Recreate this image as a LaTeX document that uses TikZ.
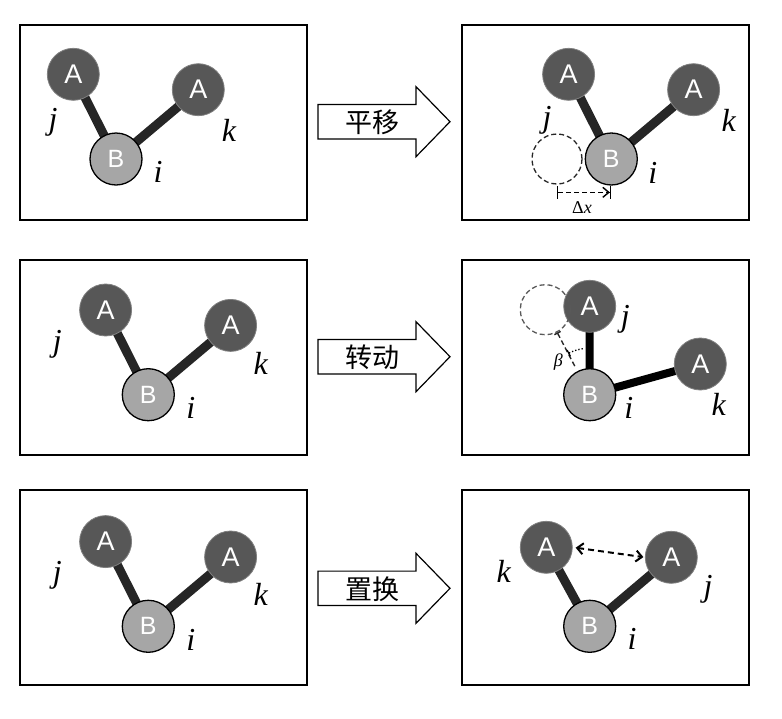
\documentclass[tikz,border=0pt]{standalone}
\usepackage{fontspec}
\setmainfont{Liberation Serif}
\newfontfamily\atomfont{Liberation Sans}
\newfontfamily\cjk{Noto Sans CJK SC}
\usetikzlibrary{arrows.meta,backgrounds}

\definecolor{atomdark}{HTML}{575757}
\definecolor{atomlight}{HTML}{A6A6A6}
\definecolor{bondgray}{HTML}{262626}

\tikzset{
	panel/.style={draw=black, line width=2pt},
	atomA/.style={circle, fill=atomdark, draw=black!50, line width=0.8pt, minimum size=52pt, inner sep=0pt, text=white, font=\atomfont\fontsize{27}{27}\selectfont},
	atomB/.style={circle, fill=atomlight, draw=black, line width=1.3pt, minimum size=52pt, inner sep=0pt, text=white, font=\atomfont\fontsize{25}{25}\selectfont},
	bond/.style={line width=9pt, draw=bondgray},
	lbl/.style={font=\fontsize{32}{32}\selectfont\itshape, inner sep=0pt},
	ghost/.style={circle, draw, dash pattern=on 5pt off 3pt, line width=1.3pt, minimum size=50pt, inner sep=0pt},
	shiftline/.style={dash pattern=on 5pt off 3pt, line width=1.4pt},
	arrowbox/.style={draw=black, line width=1.2pt, fill=white},
	cjktext/.style={font=\cjk\fontsize{27}{27}\selectfont, inner sep=0pt},
	small/.style={font=\fontsize{18}{18}\selectfont, inner sep=0pt}
}

\newcommand{\molecule}[2]{

\begin{scope}[shift={#1}]
	\node[atomB] (#2b) at (0,0) {B};
	\node[atomA] (#2j) at (-42.7,-84.7) {A};
	\node[atomA] (#2k) at (82.3,-69.3) {A};
	\begin{scope}[on background layer]
		\draw[bond] (#2b.center) -- (#2j.center);
		\draw[bond] (#2b.center) -- (#2k.center);
	\end{scope}
\end{scope}

}

\newcommand{\bigarrow}[3]{

\begin{scope}[shift={#1}]
	\draw[arrowbox] (0,-17.2) -- (98,-17.2) -- (98,-35) -- (132,0) -- (98,35) -- (98,17.2) -- (0,17.2) -- cycle;
	\node[cjktext] (#2) at (54.5,1) {#3};
\end{scope}

}

\begin{document}
\begin{tikzpicture}[x=1pt, y=-1pt]

	\useasboundingbox (0,0) rectangle (782,718);

	\foreach \y in {25, 260, 490}
		\foreach \x in {20, 462}
			\draw[panel] (\x,\y) rectangle ++(287,195);
			; %end for \x
		; %end for \y

	% starting configurations
	\foreach \x/\y/\n in {116/159/m1, 148.3/394.7/m3, 148.3/626.3/m5}
		\molecule{(\x,\y)}{\n}
		; %end for \x

	\node[lbl] (l1j) at (53,122) {j};
	\node[lbl] (l1k) at (229,130) {k};
	\node[lbl] (l1i) at (158,172) {i};
	\node[lbl] (l3j) at (57.3,344) {j};
	\node[lbl] (l3k) at (260.7,363) {k};
	\node[lbl] (l3i) at (190.7,408) {i};
	\node[lbl] (l5j) at (57.3,575) {j};
	\node[lbl] (l5k) at (260.7,594.7) {k};
	\node[lbl] (l5i) at (190.7,639.7) {i};

	\bigarrow{(318,121.7)}{t1}{平移}
	\bigarrow{(318,356.7)}{t2}{转动}
	\bigarrow{(318,588.3)}{t3}{置换}

	% translation
	\molecule{(611.3,159)}{m2}
	\node[ghost, draw=black!85] (g1) at (557,159) {};
	\coordinate (dxs) at ([yshift=-7.7pt]g1.south);
	\draw[shiftline, {Bar[width=13pt]}-{Straight Barb[length=6pt,width=10pt]Bar[width=13pt]}] (dxs) -- (dxs -| m2b);
	\node[small] (dxl) at (582,207.7) {Δ\textit{x}};
	\node[lbl] (l2j) at (547,120) {j};
	\node[lbl] (l2k) at (728.7,120) {k};
	\node[lbl] (l2i) at (652.7,173) {i};

	% rotation
	\node[atomB] (m4b) at (589.7,394.7) {B};
	\node[atomA] (m4j) at (589.7,306.3) {A};
	\node[atomA] (m4k) at (700.3,364) {A};
	\begin{scope}[on background layer]
		\draw[bond, draw=black, line width=8pt] (m4b.center) -- (m4j.center) (m4b.center) -- (m4k.center);
	\end{scope}
	\node[ghost, draw=black!65] (g2) at (545.3,309.7) {};
	\draw[shiftline, draw=black!85, {Bar[width=7pt]}-, shorten >=4pt] (g2) -- (m4b);
	\draw[dotted, line width=1.3pt, {Bar[width=7pt]}-] ([shift={(-117.6:46.5)}]m4b.center) arc[start angle=-117.6, end angle=-98, radius=46.5];
	\node[small] (beta) at (558.3,362) {\textit{β}};
	\node[lbl] (l4j) at (625.3,319.7) {j};
	\node[lbl] (l4k) at (718.7,404.7) {k};
	\node[lbl] (l4i) at (628.7,408) {i};

	% permutation
	\node[atomB] (m6b) at (589.7,626.3) {B};
	\node[atomA] (m6k) at (546.3,547.3) {A};
	\node[atomA] (m6j) at (671.3,557.3) {A};
	\begin{scope}[on background layer]
		\draw[bond] (m6b.center) -- (m6k.center) (m6b.center) -- (m6j.center);
	\end{scope}
	\draw[line width=2pt, dash pattern=on 6pt off 4pt, {Straight Barb[length=6pt,width=11pt]}-{Straight Barb[length=6pt,width=11pt]}, shorten <=3pt, shorten >=1.5pt] (m6k.east) -- (m6j.west);
	\node[lbl] (l6k) at (503.7,571.3) {k};
	\node[lbl] (l6j) at (708,589.7) {j};
	\node[lbl] (l6i) at (632,638.7) {i};

\end{tikzpicture}
\end{document}
